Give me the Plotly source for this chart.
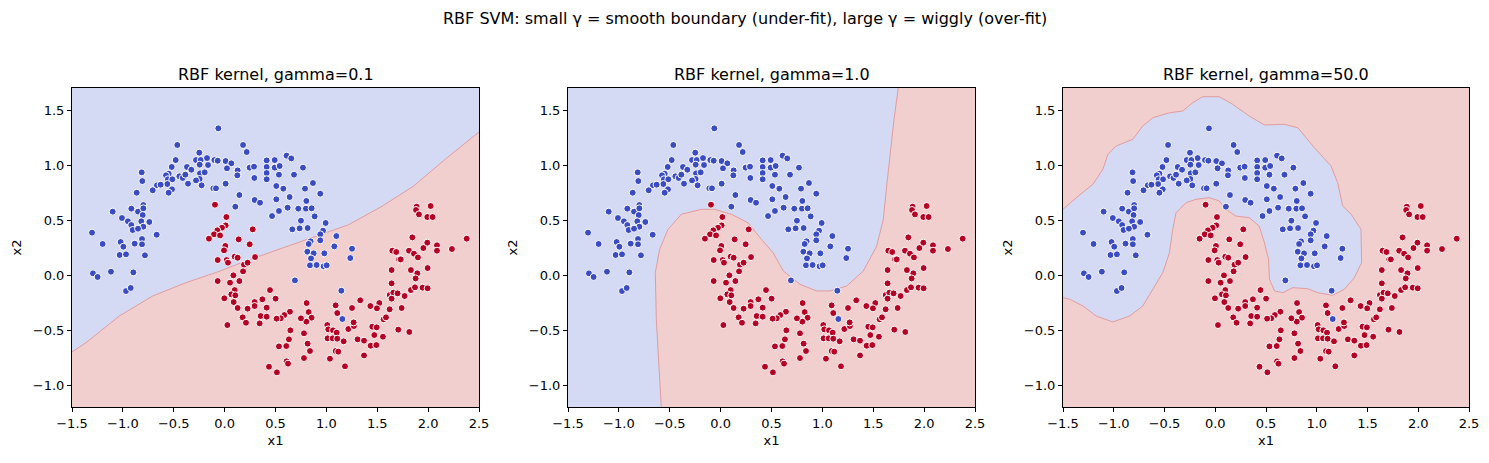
import plotly.graph_objects as go

# ---------------- data ----------------
BLUE_X = [-0.062, -0.465, 0.181, 0.217, -0.249, -0.281, -0.235, -0.173, -0.101, -0.068,
          -0.481, 0.010, 0.066, -0.163, -0.245, -0.520, -0.370, -0.327, -0.815, -0.550,
          -0.576, -0.445, -0.412, -0.386, -0.242, -0.196, -0.245, -0.281, -0.557, -0.514,
          -0.563, -0.517, -0.550, -0.665, -0.707, -0.629, -0.809, -0.360, -0.226, -0.111,
          -0.085, 0.010, 0.023, 0.128, 0.125, 0.246, 0.289, 0.292, 0.413, 0.413,
          0.413, 0.413, -0.864, 0.145, 0.105, 0.295, 0.348, 0.466, -1.100, -0.917,
          -0.851, -0.799, -0.799, -0.805, -1.009, -0.950, -0.917, -0.904, -0.819, -0.740,
          -0.799, -0.851, -1.303, -0.668, -0.812, -0.812, -1.022, -0.995, -0.884, -1.032,
          -0.969, -0.783, -1.199, -1.294, -1.248, -1.117, -0.897, -0.969, -0.923,
          0.609, 0.655, 0.492, 0.492, 0.541, 0.534, 0.682, 0.770, 0.508, 0.577,
          0.790, 0.868, 0.940, 0.508, 0.639, 0.534, 0.619, 0.724, 0.803, 0.799,
          0.855, 0.885, 0.750, 0.665, 0.737, 0.816, 0.993, 0.967, 0.940, 0.845,
          0.826, 0.940, 1.098, 1.078, 0.813, 0.875, 0.980, 0.849, 1.252, 1.235,
          0.839, 0.904, 0.973, 1.003, 0.691, 1.147, 1.157]
BLUE_Y = [1.333, 1.182, 1.182, 1.118, 1.112, 1.045, 1.045, 1.063, 1.045, 1.039,
          1.045, 1.036, 1.015, 1.000, 1.003, 0.982, 0.982, 0.957, 0.933, 0.921,
          0.906, 0.897, 0.882, 0.912, 0.924, 0.933, 0.873, 0.860, 0.870, 0.870,
          0.827, 0.779, 0.748, 0.815, 0.770, 0.821, 0.854, 0.830, 0.815, 0.788,
          0.788, 0.830, 0.970, 0.951, 0.906, 0.976, 0.985, 0.882, 1.042, 0.982,
          0.927, 0.870, 0.748, 0.727, 0.621, 0.682, 0.657, 0.536, 0.576, 0.603,
          0.576, 0.636, 0.606, 0.545, 0.518, 0.488, 0.454, 0.409, 0.488, 0.482,
          0.439, 0.421, 0.385, 0.366, 0.327, 0.279, 0.300, 0.257, 0.285, 0.182,
          0.188, 0.179, 0.282, 0.015, -0.018, 0.030, 0.024, -0.146, -0.118,
          1.085, 1.060, 1.045, 0.976, 0.991, 0.912, 0.912, 0.976, 0.809, 0.785,
          0.785, 0.836, 0.739, 0.688, 0.709, 0.582, 0.612, 0.603, 0.673, 0.603,
          0.606, 0.533, 0.494, 0.415, 0.424, 0.427, 0.473, 0.403, 0.370, 0.306,
          0.282, 0.315, 0.354, 0.260, 0.212, 0.197, 0.197, 0.151, 0.239, 0.154,
          0.088, 0.091, 0.079, 0.088, -0.049, -0.143, -0.400]

RED_X = [-0.095, 0.017, 0.010, -0.026, -0.072, -0.104, -0.154, -0.045, 0.276, 0.007,
         0.138, 0.246, -0.006, -0.068, 0.020, 0.033, 0.099, 0.128, 0.190, 0.226,
         0.299, 0.181, 0.086, -0.068, 0.053, 0.145, 0.099, 0.066, 0.105, -0.003,
         0.089, 0.128, 0.226, 0.295, 0.295, 0.371, 0.446, 0.413, 0.177, 0.210,
         0.354, 0.344, 0.413, 0.027, 0.436,
         1.887, 2.025, 1.881, 1.910, 1.992, 2.044, 1.845, 1.992, 1.953, 2.087,
         2.087, 2.234, 2.379, 1.812, 1.861, 1.900, 1.648, 1.687, 1.714, 1.730,
         1.641, 1.831, 1.894, 1.877, 1.995, 1.641, 1.622, 1.658, 1.700, 1.769,
         1.831, 1.871, 1.946, 1.995, 1.641, 1.520, 1.432, 1.497, 1.622, 1.740,
         1.333, 1.252, 1.091, 1.107, 0.806, 0.826, 0.855, 0.803, 0.750, 0.501,
         0.642, 0.587, 0.551, 0.511, 1.009, 1.019, 1.065, 1.101, 1.012, 1.062,
         1.107, 1.170, 1.216, 1.271, 1.268, 1.307, 1.370, 1.451, 1.494, 1.563,
         1.586, 1.471, 1.556, 1.435, 1.491, 1.707, 1.815, 0.646, 0.780, 0.632,
         0.534, 0.606, 0.816, 0.839, 1.091, 1.117, 1.370, 1.035, 0.780, 0.609,
         0.623, 1.183, 0.514]
RED_Y = [0.639, 0.527, 0.451, 0.430, 0.406, 0.370, 0.330, 0.360, 0.415, 0.264,
         0.324, 0.279, 0.224, 0.136, 0.136, 0.112, 0.167, 0.157, 0.094, 0.112,
         0.163, 0.033, -0.003, -0.055, -0.070, -0.055, -0.137, -0.176, -0.185, -0.212,
         -0.246, -0.300, -0.306, -0.246, -0.282, -0.221, -0.137, -0.297, -0.385, -0.434,
         -0.373, -0.440, -0.379, -0.455, -0.834,
         0.621, 0.627, 0.591, 0.551, 0.527, 0.527, 0.342, 0.294, 0.245, 0.270,
         0.221, 0.236, 0.330, 0.221, 0.194, 0.160, 0.221, 0.209, 0.142, 0.142,
         0.045, 0.045, 0.015, -0.031, 0.063, -0.076, -0.182, -0.161, -0.167, -0.191,
         -0.137, -0.112, -0.115, -0.121, -0.215, -0.255, -0.282, -0.303, -0.312, -0.300,
         -0.230, -0.300, -0.276, -0.346, -0.255, -0.337, -0.388, -0.424, -0.394, -0.215,
         -0.334, -0.364, -0.394, -0.397, -0.455, -0.494, -0.503, -0.524, -0.576, -0.576,
         -0.579, -0.603, -0.491, -0.464, -0.431, -0.585, -0.597, -0.470, -0.476, -0.403,
         -0.385, -0.546, -0.561, -0.643, -0.637, -0.497, -0.518, -0.503, -0.530, -0.585,
         -0.649, -0.646, -0.624, -0.691, -0.691, -0.697, -0.731, -0.761, -0.755, -0.785,
         -0.806, -0.830, -0.885]

# decision boundaries (one per gamma)
B1_X = [-1.5, -1.362, -1.035, -0.707, -0.380, -0.072, 0.256, 0.584, 0.891, 1.219, 1.547, 1.854, 2.183, 2.5]
B1_Y = [-0.70, -0.615, -0.373, -0.191, -0.070, 0.027, 0.143, 0.248, 0.352, 0.457, 0.625, 0.806, 1.064, 1.30]

B2_X = [-0.583, -0.632, -0.642, -0.599, -0.517, -0.386, -0.190, -0.058, 0.105, 0.269, 0.400, 0.515,
        0.616, 0.780, 0.944, 1.075, 1.239, 1.402, 1.534, 1.599, 1.632, 1.665, 1.704, 1.746]
B2_Y = [-1.2, -0.403, 0.021, 0.234, 0.415, 0.552, 0.597, 0.597, 0.552, 0.475, 0.325, 0.203,
        0.036, -0.085, -0.145, -0.145, -0.100, 0.036, 0.264, 0.506, 0.809, 1.112, 1.415, 1.7]

B3_X = [-1.5, -1.369, -1.205, -1.107, -1.058, -0.976, -0.812, -0.714, -0.615, -0.451, -0.321, -0.222,
        -0.124, 0.040, 0.171, 0.335, 0.485, 0.682, 0.813, 0.977, 1.141, 1.206, 1.255, 1.339, 1.436,
        1.442, 1.370, 1.272, 1.157, 1.009, 0.911, 0.764, 0.665, 0.584, 0.534, 0.525, 0.485, 0.433,
        0.335, 0.203, 0.105, 0.040, -0.058, -0.190, -0.288, -0.386, -0.419, -0.451, -0.517, -0.615,
        -0.714, -0.844, -1.009, -1.173, -1.303, -1.434, -1.5]
B3_Y = [0.597, 0.703, 0.825, 0.961, 1.097, 1.173, 1.234, 1.355, 1.430, 1.475, 1.491, 1.566,
        1.621, 1.621, 1.552, 1.445, 1.364, 1.370, 1.339, 1.157, 0.991, 0.839, 0.627, 0.552, 0.415,
        0.112, -0.025, -0.130, -0.185, -0.161, -0.125, -0.115, -0.161, -0.145, -0.039, 0.143, 0.291, 0.445,
        0.521, 0.536, 0.597, 0.673, 0.703, 0.688, 0.657, 0.566, 0.415, 0.203, 0.021, -0.130,
        -0.282, -0.373, -0.427, -0.373, -0.282, -0.221, -0.206]

GAMMAS = ["0.1", "1.0", "50.0"]
X_TICKS = [-1.5, -1.0, -0.5, 0.0, 0.5, 1.0, 1.5, 2.0, 2.5]
Y_TICKS = [-1.0, -0.5, 0.0, 0.5, 1.0, 1.5]
X_RANGE = [-1.5, 2.5]
Y_RANGE = [-1.2, 1.7]

# ---------------- styling ----------------
W, H = 1489, 463
FONT = "DejaVu Sans"
BLUE_BG = "#d4d9f4"
RED_BG = "#f2cfcf"
BLUE_PT = "#3b4cc0"
RED_PT = "#b40426"
EDGE = "rgba(225,150,150,0.9)"

PANEL_PX = [(72, 479), (568, 975), (1063, 1469)]
TOP_PX, BOT_PX = 88, 407


def lab(v):
    return f"{v:.1f}".replace("-", "\u2212")


fig = go.Figure()

xmin, xmax = X_RANGE
ymin, ymax = Y_RANGE
regions = [
    (B1_X + [xmax, xmin], B1_Y + [ymax, ymax]),
    ([xmin] + B2_X + [xmin], [ymin] + B2_Y + [ymax]),
    (B3_X, B3_Y),
]
bounds = [(B1_X, B1_Y), (B2_X, B2_Y), (B3_X, B3_Y)]

for i in range(3):
    sfx = "" if i == 0 else str(i + 1)
    xa, ya = "x" + sfx, "y" + sfx
    rx, ry = regions[i]
    fig.add_trace(go.Scatter(x=rx, y=ry, mode="lines", fill="toself", fillcolor=BLUE_BG,
                             line=dict(width=0, color=BLUE_BG), hoverinfo="skip",
                             showlegend=False, xaxis=xa, yaxis=ya))
    bx, by = bounds[i]
    fig.add_trace(go.Scatter(x=bx, y=by, mode="lines", line=dict(width=1, color=EDGE),
                             hoverinfo="skip", showlegend=False, xaxis=xa, yaxis=ya))
    fig.add_trace(go.Scatter(x=BLUE_X, y=BLUE_Y, mode="markers",
                             marker=dict(size=7, color=BLUE_PT, line=dict(width=1, color="white")),
                             showlegend=False, xaxis=xa, yaxis=ya))
    fig.add_trace(go.Scatter(x=RED_X, y=RED_Y, mode="markers",
                             marker=dict(size=7, color=RED_PT, line=dict(width=1, color="white")),
                             showlegend=False, xaxis=xa, yaxis=ya))

    l, r = PANEL_PX[i]
    dom_x = [l / W, r / W]
    dom_y = [1 - BOT_PX / H, 1 - TOP_PX / H]
    axcommon = dict(showline=True, mirror=True, linecolor="black", linewidth=1,
                    ticks="outside", ticklen=4, tickwidth=1, tickcolor="black",
                    showgrid=False, zeroline=False, automargin=False,
                    tickfont=dict(family=FONT, size=13, color="black"))
    fig.update_layout(**{
        ("xaxis" + sfx): dict(domain=dom_x, range=X_RANGE, anchor=ya,
                              tickvals=X_TICKS, ticktext=[lab(v) for v in X_TICKS],
                              title=dict(text="x1", font=dict(family=FONT, size=13, color="black"), standoff=6),
                              **axcommon),
        ("yaxis" + sfx): dict(domain=dom_y, range=Y_RANGE, anchor=xa,
                              tickvals=Y_TICKS, ticktext=[lab(v) for v in Y_TICKS],
                              title=dict(text="x2", font=dict(family=FONT, size=13, color="black"), standoff=8),
                              **axcommon),
    })
    fig.add_annotation(text=f"RBF kernel, gamma={GAMMAS[i]}", xref="paper", yref="paper",
                       x=(l + r) / 2 / W, y=1 - 75 / H, showarrow=False,
                       font=dict(family=FONT, size=16, color="black"),
                       xanchor="center", yanchor="middle")

fig.add_annotation(text="RBF SVM: small \u03b3 = smooth boundary (under-fit), large \u03b3 = wiggly (over-fit)",
                   xref="paper", yref="paper", x=0.5, y=1 - 18 / H, showarrow=False,
                   font=dict(family=FONT, size=16, color="black"), xanchor="center", yanchor="middle")

fig.update_layout(width=W, height=H, margin=dict(l=0, r=0, t=0, b=0),
                  plot_bgcolor=RED_BG, paper_bgcolor="white", showlegend=False)

fig.write_html("out.html")
